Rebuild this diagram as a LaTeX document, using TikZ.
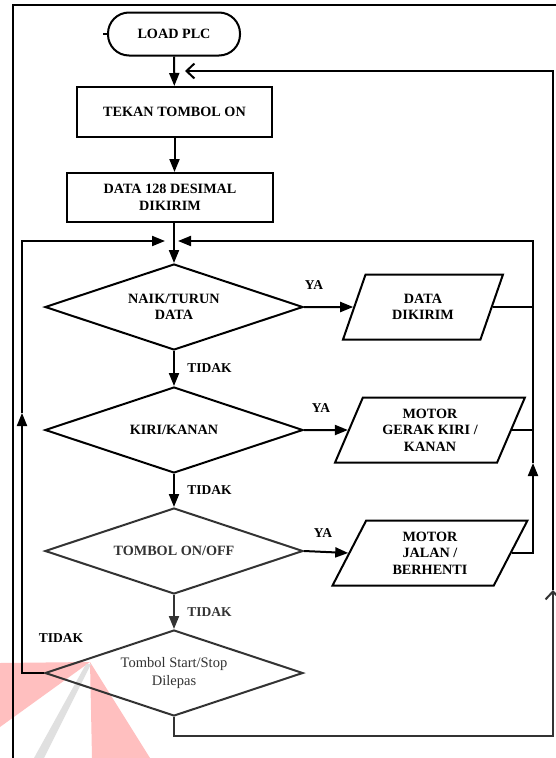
\documentclass[tikz,border=0pt]{standalone}
\usepackage{fontspec}
\setmainfont{Liberation Serif}
\usetikzlibrary{shapes.geometric,arrows.meta}

\begin{document}
\begin{tikzpicture}[x=1pt,y=-1pt,
  line width=2pt,
  every node/.style={font=\fontsize{14.2}{16.5}\selectfont\bfseries, align=center},
  flow/.style={-{Triangle[length=13pt,width=10pt]}},
  back/.style={-{Straight Barb[length=8pt,width=15pt,line width=2pt]}},
  procbox/.style={draw, rectangle, inner sep=0pt},
  termbox/.style={draw, rounded corners=21pt, inner sep=0pt, minimum width=132pt, minimum height=43pt},
  decbox/.style={draw, diamond, aspect=3, inner sep=0pt, minimum width=258pt, minimum height=86pt},
  iobox/.style={draw, trapezium, trapezium left angle=65, trapezium right angle=115,
                trapezium stretches=true, inner sep=0pt, minimum height=65pt},
  lbl/.style={font=\fontsize{13.5}{15}\selectfont\bfseries},
  dim/.style={draw=black!80, text=black!80},
  dimtext/.style={text=black!80}
]
\clip (0,0) rectangle (556,758);
\fill[white] (0,0) rectangle (556,758);

% faint logo marks at the foot of the page
\fill[red!25!white] (0,663) -- (90,662) -- (0,727) -- cycle;
\fill[red!25!white] (90,662) -- (150,758) -- (92,758) -- cycle;
\fill[black!12] (86,664) -- (91,664) -- (44,758) -- (34,758) -- cycle;

% page frame
\draw (13,758) -- (13,5) -- (556,5);

% main column
\node[termbox] (load) at (174,34) {LOAD PLC};
\draw (load.west) -- ++(-4,0);
\node[procbox, minimum width=195pt, minimum height=50pt] (tekan) at (174.5,112) {TEKAN TOMBOL ON};
\node[procbox, minimum width=206pt, minimum height=49pt] (kirim) at (170,197.5) {DATA 128 DESIMAL\\DIKIRIM};
\node[decbox] (naik) at (174,307) {NAIK/TURUN\\DATA};
\node[decbox] (kiri) at (174,430) {KIRI/KANAN};
\node[decbox, dim] (onoff) at (174,551) {TOMBOL ON/OFF};
\node[decbox, dim, font=\fontsize{14.5}{17.5}\selectfont] (lepas) at (174,673) {Tombol Start/Stop\\Dilepas};

% outputs
\node[iobox, minimum width=161pt] (pdata) at (423,307) {DATA\\DIKIRIM};
\node[iobox, minimum width=190pt] (pgerak) at (430,430) {MOTOR\\GERAK KIRI /\\KANAN};
\node[iobox, minimum width=195pt] (pjalan) at (430,553) {MOTOR\\JALAN /\\BERHENTI};

% downward flow
\draw[flow] (load) -- (tekan);
\draw[flow] (tekan.south) -- (tekan.south |- kirim.north);
\draw[flow] (kirim.south -| naik.north) -- (naik.north);
\draw[flow] (naik) -- node[lbl, right=9pt] (t1) {TIDAK} (kiri);
\draw[flow] (kiri) -- node[lbl, right=9pt] (t2) {TIDAK} (onoff);
\draw[flow, draw=black!80, fill=black!80] (onoff) -- node[lbl, dimtext, right=9pt] (t3) {TIDAK} (lepas);

% yes branches
\draw[flow] (naik.east) -- (pdata.west);
\draw[flow] (kiri.east) -- (pgerak.west);
\draw[flow] (onoff.east) -- (pjalan.west);
\node[lbl] (y1) at (314,285) {YA};
\node[lbl] (y2) at (321,408) {YA};
\node[lbl] (y3) at (323,533) {YA};

% return path from the outputs
\coordinate (rtop) at (533,241);
\coordinate (rarrow) at (533,463);
\coordinate (rin) at (178,241);
\draw (pdata.east) -- (pdata.east -| rtop);
\draw (pgerak.east) -- (pgerak.east -| rtop);
\draw[flow] (pjalan.east) -| (rarrow);
\draw[flow] (rarrow) -- (rtop) -- (rin);

% return path when the button is held
\coordinate (lcorner) at (22,673);
\coordinate (larrow) at (22,413);
\coordinate (ltop) at (22,241);
\coordinate (lin) at (165,241);
\draw[flow] (lepas.west) -- (lcorner) -- (larrow);
\draw[flow] (larrow) -- (ltop) -- (lin);
\node[lbl] (t4) at (61,638) {TIDAK};

% return path to the start
\coordinate (bdown) at (174,736);
\coordinate (bcorner) at (553,736);
\coordinate (barrow) at (553,590);
\coordinate (btop) at (553,71);
\coordinate (bin) at (185,71);
\draw[back, draw=black!80] (lepas.south) -- (bdown) -- (bcorner) -- (barrow);
\draw[back] (barrow) -- (btop) -- (bin);
\end{tikzpicture}
\end{document}
